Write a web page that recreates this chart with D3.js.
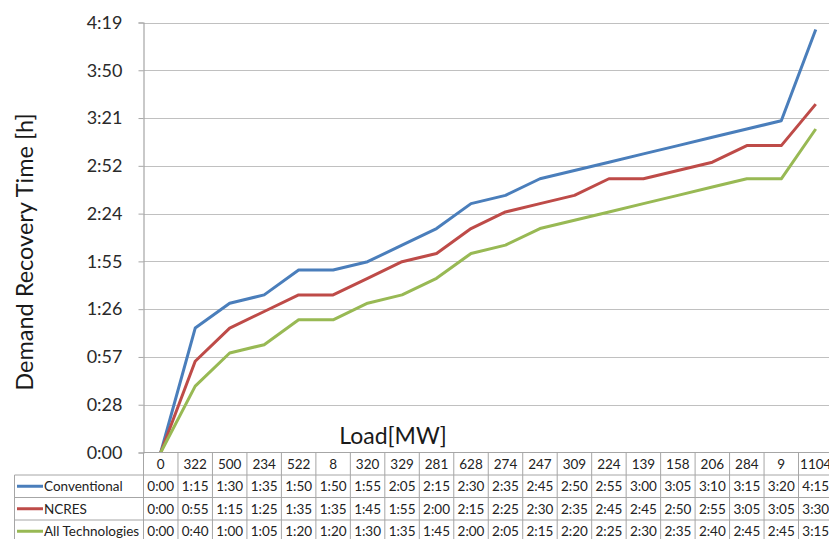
<!DOCTYPE html>
<html>
<head>
<meta charset="utf-8">
<script src="https://cdn.jsdelivr.net/npm/d3@7"></script>
<style>
  body { margin: 0; background: #fff; }
  svg { display: block; font-family: Lato, "Open Sans", sans-serif; }
</style>
</head>
<body>
<div class="chart"></div>
<script>
// load per step [MW]
const loads = ["0", "322", "500", "234", "522", "8", "320", "329", "281", "628",
  "274", "247", "309", "224", "139", "158", "206", "284", "9", "1104"];

const conventional = ["0:00", "1:15", "1:30", "1:35", "1:50", "1:50", "1:55", "2:05", "2:15", "2:30",
  "2:35", "2:45", "2:50", "2:55", "3:00", "3:05", "3:10", "3:15", "3:20", "4:15"];
const ncres = ["0:00", "0:55", "1:15", "1:25", "1:35", "1:35", "1:45", "1:55", "2:00", "2:15",
  "2:25", "2:30", "2:35", "2:45", "2:45", "2:50", "2:55", "3:05", "3:05", "3:30"];
const allTech = ["0:00", "0:40", "1:00", "1:05", "1:20", "1:20", "1:30", "1:35", "1:45", "2:00",
  "2:05", "2:15", "2:20", "2:25", "2:30", "2:35", "2:40", "2:45", "2:45", "3:15"];

const seriesNames = ["Conventional", "NCRES", "All Technologies"];
const seriesColors = ["#4a7ebb", "#be4b48", "#98b954"];

// excel time axis: major unit 0.02 day = 28.8 min
const yTicks = [0, 28.8, 57.6, 86.4, 115.2, 144, 172.8, 201.6, 230.4, 259.2];

const toMin = s => { const p = s.split(":"); return +p[0] * 60 + +p[1]; };
const fmt = m => Math.floor(m / 60) + ":" + String(Math.floor(m % 60)).padStart(2, "0");

const width = 829, height = 539;
const plot = {left: 143.5, right: 833, top: 22.5, bottom: 452.5};
const rowH = 22.5;

const series = [conventional, ncres, allTech].map((vals, i) => ({
  name: seriesNames[i],
  color: seriesColors[i],
  raw: vals,
  values: vals.map(toMin)
}));

const svg = d3.select(".chart").append("svg")
  .attr("width", width)
  .attr("height", height);

const x = d3.scaleBand()
  .domain(loads)
  .range([plot.left, plot.right]);

const y = d3.scaleLinear()
  .domain([0, 259.2])
  .range([plot.bottom, plot.top]);

// gridlines
svg.append("g")
  .selectAll("line")
  .data(yTicks.slice(1))
  .join("line")
  .attr("x1", plot.left)
  .attr("x2", width)
  .attr("y1", d => Math.round(y(d)) + 0.5)
  .attr("y2", d => Math.round(y(d)) + 0.5)
  .attr("stroke", "#c0c0c0")
  .attr("stroke-width", 1.2);

// y axis
const yAxis = d3.axisLeft(y)
  .tickValues(yTicks)
  .tickFormat(fmt)
  .tickSize(5)
  .tickPadding(16);

const gy = svg.append("g")
  .attr("transform", `translate(${plot.left},0)`)
  .call(yAxis);
gy.select(".domain").attr("stroke", "#a6a6a6").attr("stroke-width", 1.2);
gy.selectAll(".tick line").attr("stroke", "#a6a6a6");
gy.selectAll(".tick text")
  .attr("font-size", 18)
  .attr("fill", "#2a2a2a")
  .attr("font-family", "Lato, sans-serif");

svg.append("text")
  .attr("transform", `translate(33,252) rotate(-90)`)
  .attr("text-anchor", "middle")
  .attr("font-size", 23.5)
  .attr("fill", "#1a1a1a")
  .text("Demand Recovery Time [h]");

svg.append("text")
  .attr("x", 393)
  .attr("y", 444)
  .attr("text-anchor", "middle")
  .attr("font-size", 23)
  .attr("fill", "#1a1a1a")
  .text("Load[MW]");

// lines
const line = d3.line()
  .x((d, i) => x(loads[i]) + x.bandwidth() / 2)
  .y(d => y(d));

svg.append("g")
  .selectAll("path")
  .data(series)
  .join("path")
  .attr("d", d => line(d.values))
  .attr("fill", "none")
  .attr("stroke", d => d.color)
  .attr("stroke-width", 3)
  .attr("stroke-linejoin", "round");

// data table
const table = svg.append("g");
const gridColor = "#a6a6a6";
const tBottom = plot.bottom + rowH * 4;

// bottom axis line
table.append("line")
  .attr("x1", plot.left).attr("x2", width)
  .attr("y1", plot.bottom).attr("y2", plot.bottom)
  .attr("stroke", gridColor).attr("stroke-width", 1.2);

// vertical column lines
table.selectAll("line.col")
  .data(loads)
  .join("line")
  .attr("class", "col")
  .attr("x1", d => x(d)).attr("x2", d => x(d))
  .attr("y1", plot.bottom).attr("y2", tBottom)
  .attr("stroke", gridColor);

table.append("line")
  .attr("x1", 14.5).attr("x2", 14.5)
  .attr("y1", plot.bottom + rowH).attr("y2", tBottom)
  .attr("stroke", gridColor);

// horizontal row lines
table.selectAll("line.row")
  .data([1, 2, 3, 4])
  .join("line")
  .attr("class", "row")
  .attr("x1", 14.5).attr("x2", width)
  .attr("y1", d => plot.bottom + rowH * d)
  .attr("y2", d => plot.bottom + rowH * d)
  .attr("stroke", gridColor);

// header row
table.selectAll("text.head")
  .data(loads)
  .join("text")
  .attr("class", "head")
  .attr("x", d => x(d) + x.bandwidth() / 2)
  .attr("y", plot.bottom + rowH / 2 + 5)
  .attr("text-anchor", "middle")
  .attr("font-size", 13.5)
  .attr("fill", "#222")
  .text(d => d);

// series rows
const rows = table.selectAll("g.srow")
  .data(series)
  .join("g")
  .attr("class", "srow")
  .attr("transform", (d, i) => `translate(0,${plot.bottom + rowH * (i + 1)})`);

rows.append("line")
  .attr("x1", 17).attr("x2", 43)
  .attr("y1", rowH / 2).attr("y2", rowH / 2)
  .attr("stroke", d => d.color)
  .attr("stroke-width", 3);

rows.append("text")
  .attr("x", 44)
  .attr("y", rowH / 2 + 5)
  .attr("font-size", 13.5)
  .attr("fill", "#222")
  .text(d => d.name);

rows.selectAll("text.val")
  .data(d => d.raw)
  .join("text")
  .attr("class", "val")
  .attr("x", (d, i) => x(loads[i]) + x.bandwidth() / 2)
  .attr("y", rowH / 2 + 5)
  .attr("text-anchor", "middle")
  .attr("font-size", 13.5)
  .attr("fill", "#222")
  .text(d => d);
</script>
</body>
</html>
